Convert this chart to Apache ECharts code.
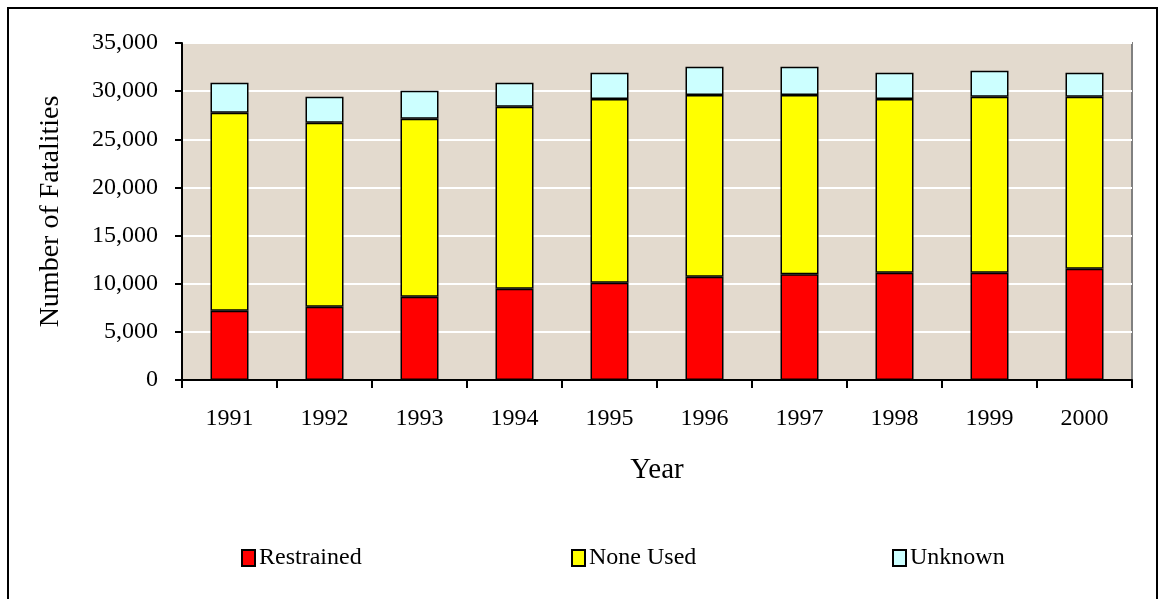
<!DOCTYPE html>
<html>
<head>
<meta charset="utf-8">
<script src="https://cdn.jsdelivr.net/npm/echarts@6/dist/echarts.min.js"></script>
<style>
html,body{margin:0;padding:0;background:#fff;}
#chart{width:1160px;height:599px;}
</style>
</head>
<body>
<div id="chart"></div>
<script>
var years = ['1991','1992','1993','1994','1995','1996','1997','1998','1999','2000'];
var restrained = [7200, 7610, 8650, 9480, 10100, 10730, 10970, 11140, 11140, 11560];
var noneUsed = [20560, 19110, 18480, 18900, 19080, 18870, 18630, 18040, 18280, 17860];
var unknown = [3110, 2700, 2910, 2490, 2730, 2930, 2930, 2730, 2700, 2490];
var seriesNames = ['Restrained', 'None Used', 'Unknown'];
var seriesColors = ['#ff0000', '#ffff00', '#ccffff'];

var font = '"Liberation Serif", "Times New Roman", serif';
var chart = echarts.init(document.getElementById('chart'), null, {renderer: 'canvas'});

function mkSeries(name, data, color) {
  return {
    name: name, type: 'bar', stack: 'total', data: data,
    barWidth: 38,
    itemStyle: {color: color, borderColor: '#000', borderWidth: 1.5},
    emphasis: {disabled: true}
  };
}
function mkLegend(name, left) {
  return {
    data: [name], left: left, top: 541, itemWidth: 13, itemHeight: 16, itemGap: 0,
    icon: 'rect',
    textStyle: {fontFamily: font, fontSize: 24, color: '#000', padding: [0, 0, 0, -1]},
    itemStyle: {borderColor: '#000', borderWidth: 2}
  };
}

chart.setOption({
  animation: false,
  backgroundColor: '#fff',
  graphic: [{
    type: 'rect', shape: {x: 8, y: 8, width: 1149, height: 620},
    style: {fill: 'none', stroke: '#000', lineWidth: 2}, z: 100
  }],
  legend: [mkLegend(seriesNames[0], 236), mkLegend(seriesNames[1], 566), mkLegend(seriesNames[2], 887)],
  grid: {
    left: 182, top: 43, width: 950, height: 337,
    show: true, backgroundColor: '#e3dace', borderColor: '#808080', borderWidth: 2
  },
  xAxis: {
    type: 'category', data: years,
    name: 'Year', nameLocation: 'middle', nameGap: 76,
    nameTextStyle: {fontFamily: font, fontSize: 29, color: '#000'},
    axisLine: {lineStyle: {color: '#000', width: 2}},
    axisTick: {show: true, length: 8, lineStyle: {color: '#000', width: 2}},
    axisLabel: {fontFamily: font, fontSize: 24, color: '#000', margin: 27},
    splitLine: {show: false}
  },
  yAxis: {
    type: 'value', min: 0, max: 35000, interval: 5000,
    name: 'Number of Fatalities', nameLocation: 'middle', nameGap: 117,
    nameTextStyle: {fontFamily: font, fontSize: 28, color: '#000'},
    axisLine: {show: true, lineStyle: {color: '#000', width: 2}},
    axisTick: {show: true, length: 7, lineStyle: {color: '#000', width: 2}},
    axisLabel: {
      fontFamily: font, fontSize: 24, color: '#000', margin: 24,
      formatter: function (v) { return v.toLocaleString('en-US'); }
    },
    splitLine: {show: true, lineStyle: {color: '#ffffff', width: 2}}
  },
  series: [
    mkSeries(seriesNames[0], restrained, seriesColors[0]),
    mkSeries(seriesNames[1], noneUsed, seriesColors[1]),
    mkSeries(seriesNames[2], unknown, seriesColors[2])
  ]
});
</script>
</body>
</html>
